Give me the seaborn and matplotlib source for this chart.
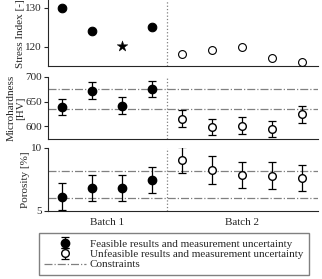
import matplotlib
matplotlib.use("Agg")
import matplotlib.pyplot as plt
import seaborn as sns

# ===============================
# Dados
# ===============================
pos_feasible = [0, 1, 2, 3]
pos_unfeasible = [4, 5, 6, 7, 8]

stress_feasible = [130.0, 124.1, 125.1]
stress_feasible_pos = [0, 1, 3]
stress_star = [120.3]
stress_star_pos = [2]
stress_unfeasible = [118.2, 119.2, 120.0, 117.2, 116.0]

hard_feasible = [639, 672, 642, 675]
hard_feasible_err = [16.5, 16.5, 16.5, 16.5]
hard_unfeasible = [616, 599, 602, 595, 625]
hard_unfeasible_err = [17, 17, 17, 17, 17]
hard_constraints = [635, 675]

poro_feasible = [6.13, 6.8, 6.8, 7.46]
poro_feasible_err = [1.05, 1.05, 1.05, 1.02]
poro_unfeasible = [9.05, 8.25, 7.86, 7.8, 7.6]
poro_unfeasible_err = [1.05, 1.08, 1.05, 1.05, 1.05]
poro_constraints = [6.0, 8.2]

batch_ticks = [1.5, 6]
batch_labels = ['Batch 1', 'Batch 2']

sns.set_theme(style="ticks")
plt.rcParams['font.family'] = ['Liberation Serif', 'DejaVu Serif']
plt.rcParams['font.size'] = 8
plt.rcParams['axes.linewidth'] = 0.8

fig = plt.figure(figsize=(3.22, 2.79), dpi=100)
left, width = 0.149, 0.839
ax1 = fig.add_axes([left, 0.762, width, 0.238])
ax2 = fig.add_axes([left, 0.502, width, 0.223])
ax3 = fig.add_axes([left, 0.244, width, 0.226])

# ===============================
# Stress index
# ===============================
sns.scatterplot(x=stress_feasible_pos, y=stress_feasible, ax=ax1, color='black',
                s=38, edgecolor='black', linewidth=0.8, zorder=3)
sns.scatterplot(x=stress_star_pos, y=stress_star, ax=ax1, color='black', marker='*',
                s=65, edgecolor='black', linewidth=0.3, zorder=3)
sns.scatterplot(x=pos_unfeasible, y=stress_unfeasible, ax=ax1, facecolor='white',
                s=32, edgecolor='black', linewidth=0.8, zorder=3)
ax1.set_ylim(115, 132)
ax1.set_yticks([120, 130])
ax1.set_ylabel('Stress Index [-]')

# ===============================
# Microhardness
# ===============================
ax2.errorbar(pos_feasible, hard_feasible, yerr=hard_feasible_err, fmt='o', color='black',
             ms=6, capsize=3.2, elinewidth=0.9, capthick=0.9, zorder=3)
ax2.errorbar(pos_unfeasible, hard_unfeasible, yerr=hard_unfeasible_err, fmt='o', color='black',
             mfc='white', ms=5.5, capsize=3.2, elinewidth=0.9, capthick=0.9, zorder=3)
for c in hard_constraints:
    ax2.axhline(c, color='gray', ls='-.', lw=0.9, zorder=1)
ax2.set_ylim(575, 700)
ax2.set_yticks([600, 650, 700])
ax2.set_ylabel('Microhardness\n[HV]', linespacing=1.05)

# ===============================
# Porosity
# ===============================
h1 = ax3.errorbar(pos_feasible, poro_feasible, yerr=poro_feasible_err, fmt='o', color='black',
                  ms=6, capsize=3.2, elinewidth=0.9, capthick=0.9, zorder=3,
                  label='Feasible results and measurement uncertainty')
h2 = ax3.errorbar(pos_unfeasible, poro_unfeasible, yerr=poro_unfeasible_err, fmt='o', color='black',
                  mfc='white', ms=5.5, capsize=3.2, elinewidth=0.9, capthick=0.9, zorder=3,
                  label='Unfeasible results and measurement uncertainty')
for c in poro_constraints:
    h3 = ax3.axhline(c, color='gray', ls='-.', lw=0.9, zorder=1, label='Constraints')
ax3.set_ylim(5, 10)
ax3.set_yticks([5, 10])
ax3.set_ylabel('Porosity [%]')

for ax in (ax1, ax2, ax3):
    ax.axvline(3.5, color='gray', ls=':', lw=0.9, zorder=1)
    ax.set_xlim(-0.47, 8.53)
    sns.despine(ax=ax)
    ax.tick_params(axis='y', labelsize=8, length=3, width=0.8, pad=1.5)
    ax.yaxis.label.set_size(8)
    ax.set_xticks([])

ax1.yaxis.set_label_coords(-0.085, 0.5)
ax2.yaxis.set_label_coords(-0.085, 0.5)
ax3.yaxis.set_label_coords(-0.065, 0.5)

ax3.set_xticks(batch_ticks)
ax3.set_xticklabels(batch_labels)
ax3.tick_params(axis='x', length=0, labelsize=8, pad=5)

fig.legend(handles=[h1, h2, h3], loc='upper center', bbox_to_anchor=(0.539, 0.183),
           fancybox=False, edgecolor='gray', framealpha=1, fontsize=8,
           handlelength=3.8, borderpad=0.5, labelspacing=0.05, handletextpad=0.3)

fig.savefig('out.png', dpi=100)
